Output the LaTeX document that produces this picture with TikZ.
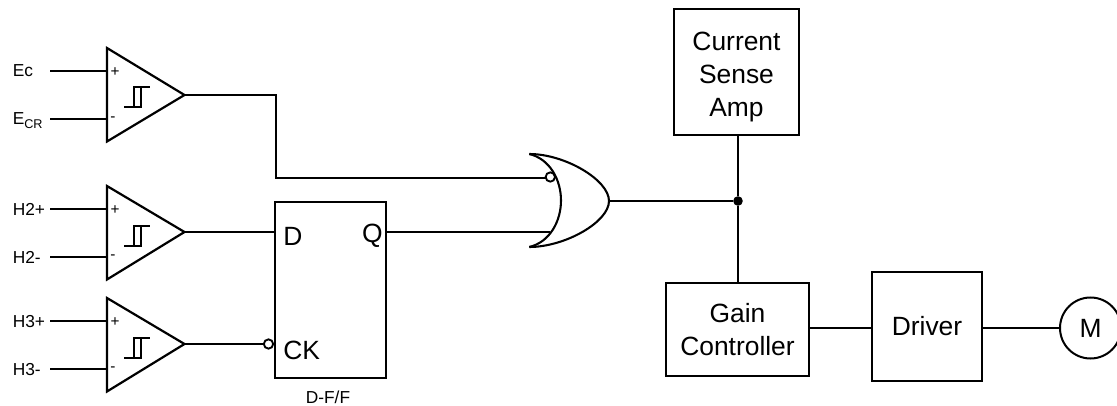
\documentclass[tikz,border=0pt]{standalone}
\usepackage{fontspec}
\setmainfont{Liberation Sans}
\tikzset{
  wire/.style={line width=1.55pt},
  blockbox/.style={draw,line width=1.65pt,inner sep=0pt,outer sep=0pt,align=center,font=\fontsize{19.8}{24.75}\selectfont},
  blocktext/.style={inner sep=0pt,align=center,font=\fontsize{19.8}{24.75}\selectfont},
  amp/.style={draw,line width=1.65pt,line join=miter},
  pinlbl/.style={inner sep=0pt,font=\fontsize{13}{15}\selectfont},
  signlbl/.style={inner sep=0pt,font=\fontsize{11.5}{13}\selectfont},
  fflbl/.style={inner sep=0pt,font=\fontsize{19.8}{24}\selectfont},
  bubble/.style={circle,draw,fill=white,line width=1.4pt,minimum size=7pt,inner sep=0pt,outer sep=0pt},
  joint/.style={circle,fill=black,minimum size=7.2pt,inner sep=0pt,outer sep=0pt},
  motor/.style={circle,draw,line width=1.5pt,minimum size=45.75pt,inner sep=0pt,outer sep=0pt,font=\fontsize{19.8}{24}\selectfont},
}
\newcommand{\cmpr}[7]{%
  \coordinate (#1p) at (107,#2+23);
  \coordinate (#1m) at (107,#2+71);
  \coordinate (#1o) at (184.5,#7);
  \coordinate (#1ps) at (50,#2+23);
  \coordinate (#1ms) at (50,#2+71);
  \draw[amp] (107,#2) -- (#1o) -- (107,#2+93.5) -- cycle;
  \draw[wire] (#1ps) -- (#1p);
  \draw[wire] (#1ms) -- (#1m);
  \node[signlbl] (#1plus) at (115,#2+24) {+};
  \node[signlbl] (#1minus) at (113,#2+71.5) {-};
  \node[pinlbl,anchor=base west] (#1a) at (12.5,#2+#5) {#3};
  \node[pinlbl,anchor=base west] (#1b) at (12.5,#2+#6) {#4};
  \draw[line width=1.5pt] (124,#2+59.5) -- (142,#2+59.5) (133.5,#2+59.5) -- (133.5,#2+39.5) -- (150,#2+39.5) (141,#2+39.5) -- (141,#2+59.5);
}
\begin{document}
\begin{tikzpicture}[x=0.75pt,y=-0.75pt]
\useasboundingbox (0,0) rectangle (1117,406);
% comparators
\cmpr{a}{48}{Ec}{E\raisebox{-3pt}{\fontsize{9.5}{11}\selectfont CR}}{29}{76.5}{95}
\cmpr{b}{186}{H2+}{H2-}{29}{77}{232}
\cmpr{c}{298}{H3+}{H3-}{29}{77}{344}
% flip-flop
\node[blockbox,minimum width=83.25pt,minimum height=132pt] (ff) at (330.5,290) {};
\node[fflbl,anchor=base west] (ffd) at (283,245) {D};
\node[fflbl,anchor=base east] (ffq) at (383,243) {Q};
\node[fflbl,anchor=base west] (ffck) at (283,359) {CK};
\node[pinlbl,anchor=base] (fft) at (328,403) {D-F/F};
\node[bubble] (ckb) at (268.5,344) {};
\draw[wire] (bo) -- (ff.west |- bo);
\draw[wire] (co) -- (ckb.west |- co);
% OR gate
\coordinate (gt) at (529.3,154);
\coordinate (gb) at (529.3,247);
\coordinate (gn) at (609,201);
\coordinate (gin) at (561,200.5);
\coordinate (gin2) at (550,232);
\draw[wire] (gt) .. controls (565,154) and (609,180) .. (gn)
  .. controls (609,222) and (565,247) .. (gb);
\draw[wire] (gt) .. controls (550,159) and (561,180) .. (gin) .. controls (561,221) and (550,242) .. (gb);
\node[bubble] (orb) at (550.3,177) {};
\coordinate (turn) at (276,178);
\draw[wire] (ao) -| (turn) -- (orb.west |- turn);
\draw[wire] (ff.east |- gin2) -- (gin2);
% right blocks
\node[blockbox,minimum width=93.75pt,minimum height=94.5pt] (csa) at (736.5,72) {};
\node[blocktext] (csat) at (736.5,77) {Current\\Sense\\Amp};
\node[blockbox,minimum width=107.25pt,minimum height=69.75pt] (gain) at (737.5,329.5) {Gain\\Controller};
\node[blockbox,minimum width=82.5pt,minimum height=81.75pt] (drv) at (927,326.5) {Driver};
\node[motor] (m) at (1090.5,328) {M};
\node[joint] (j) at (738,201) {};
\draw[wire] (gn) -- (j);
\draw[wire] (j |- csa.south) -- (j);
\draw[wire] (j) -- (j |- gain.north);
\draw[wire] (gain.east |- m.west) -- (drv.west |- m.west);
\draw[wire] (drv.east |- m.west) -- (m.west);
\end{tikzpicture}
\end{document}
